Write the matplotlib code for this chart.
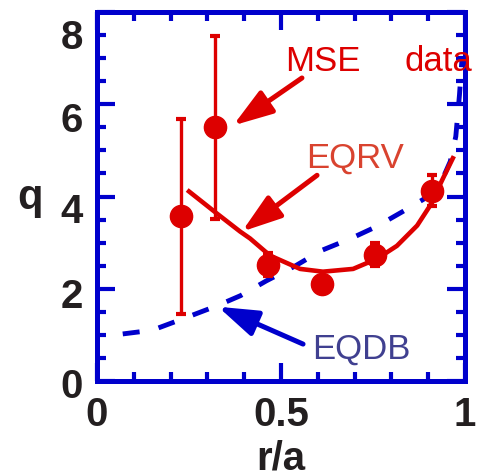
import matplotlib
matplotlib.use("Agg")
import matplotlib.pyplot as plt
from matplotlib.ticker import MultipleLocator
from matplotlib.transforms import ScaledTranslation

plt.rcParams['font.family'] = ['Liberation Sans', 'DejaVu Sans']

RED = '#dd0000'
BLUE = '#0000cc'

# MSE measurements of q with error bars
mse_r = [0.228, 0.32, 0.465, 0.611, 0.755, 0.91]
mse_q = [3.57, 5.5, 2.52, 2.11, 2.74, 4.13]
mse_err = [2.12, 1.98, 0.25, 0.15, 0.25, 0.33]

# EQRV reconstruction
eqrv_r = [0.25, 0.326, 0.389, 0.416, 0.47, 0.552, 0.614, 0.696, 0.761, 0.815,
          0.87, 0.905, 0.94, 0.967]
eqrv_q = [4.11, 3.63, 3.24, 3.09, 2.72, 2.43, 2.37, 2.43, 2.65, 2.93,
          3.37, 3.80, 4.39, 4.83]

# EQDB reconstruction
eqdb_r = [0.07, 0.15, 0.234, 0.326, 0.39, 0.46, 0.54, 0.61, 0.69, 0.76,
          0.83, 0.90, 0.94, 0.96, 0.975, 0.985, 0.992]
eqdb_q = [1.02, 1.1, 1.35, 1.63, 1.85, 2.17, 2.5, 2.83, 3.09, 3.35,
          3.67, 4.0, 4.4, 4.76, 5.3, 6.2, 7.0]

x_ticks = [0, 0.5, 1]
x_labels = ['0', '0.5', '1']
y_ticks = [0, 2, 4, 6, 8]
y_labels = ['0', '2', '4', '6', '8']

fig = plt.figure(figsize=(4.82, 4.77), dpi=100)
ax = fig.add_axes([0.2012, 0.1992, 0.7635, 0.7735])

ax.plot(eqdb_r, eqdb_q, color=BLUE, lw=3.5, dashes=(3.5, 4), zorder=2)
ax.plot(eqrv_r, eqrv_q, color=RED, lw=3.3, zorder=3)
ax.errorbar(mse_r, mse_q, yerr=mse_err, fmt='o', color=RED, ms=16,
            elinewidth=2.4, capsize=3.6, capthick=3, zorder=4)

ax.set_xlim(0, 1)
ax.set_ylim(0, 8)
ax.set_xticks(x_ticks, x_labels, fontweight='bold', color='#231f20')
ax.set_yticks(y_ticks, y_labels, fontweight='bold', color='#231f20')
ax.xaxis.set_minor_locator(MultipleLocator(0.1))
ax.yaxis.set_minor_locator(MultipleLocator(0.5))
ax.tick_params(which='both', direction='in', top=True, right=True,
               color=BLUE, width=3)
ax.tick_params(which='major', length=13, labelsize=29, pad=10)
ax.tick_params(which='minor', length=6.5)
for s in ax.spines.values():
    s.set_color(BLUE)
    s.set_linewidth(3.6)

# the upper y labels sit a little lower than their ticks
for lab, dy in zip(ax.get_yticklabels(), [1, 3, 10, 12, 21]):
    lab.set_transform(lab.get_transform() + ScaledTranslation(0, -dy / 100, fig.dpi_scale_trans))

ax.set_xlabel('r/a', fontsize=29, fontweight='bold', color='#231f20', labelpad=4)
ax.set_ylabel('q', fontsize=30, fontweight='bold', color='#231f20',
              rotation=0, labelpad=22, va='center')

arrow = dict(arrowstyle='-|>,head_length=1.2,head_width=0.4', lw=3.6,
             mutation_scale=20, shrinkA=0, shrinkB=0)
ax.annotate('', xy=(0.37, 5.54), xytext=(0.557, 6.57),
            arrowprops=dict(arrow, color=RED))
ax.annotate('', xy=(0.394, 3.24), xytext=(0.598, 4.46),
            arrowprops=dict(arrow, color=RED))
ax.annotate('', xy=(0.329, 1.61), xytext=(0.56, 0.8),
            arrowprops=dict(arrow, color=BLUE))

ax.text(0.614, 6.74, 'MSE', color=RED, fontsize=25, ha='center', va='baseline')
ax.text(0.927, 6.74, 'data', color=RED, fontsize=25, ha='center', va='baseline')
ax.text(0.701, 4.65, 'EQRV', color='#d9432f', fontsize=25, ha='center', va='baseline')
ax.text(0.718, 0.5, 'EQDB', color='#404090', fontsize=25, ha='center', va='baseline')

fig.savefig('out.png', dpi=100)
